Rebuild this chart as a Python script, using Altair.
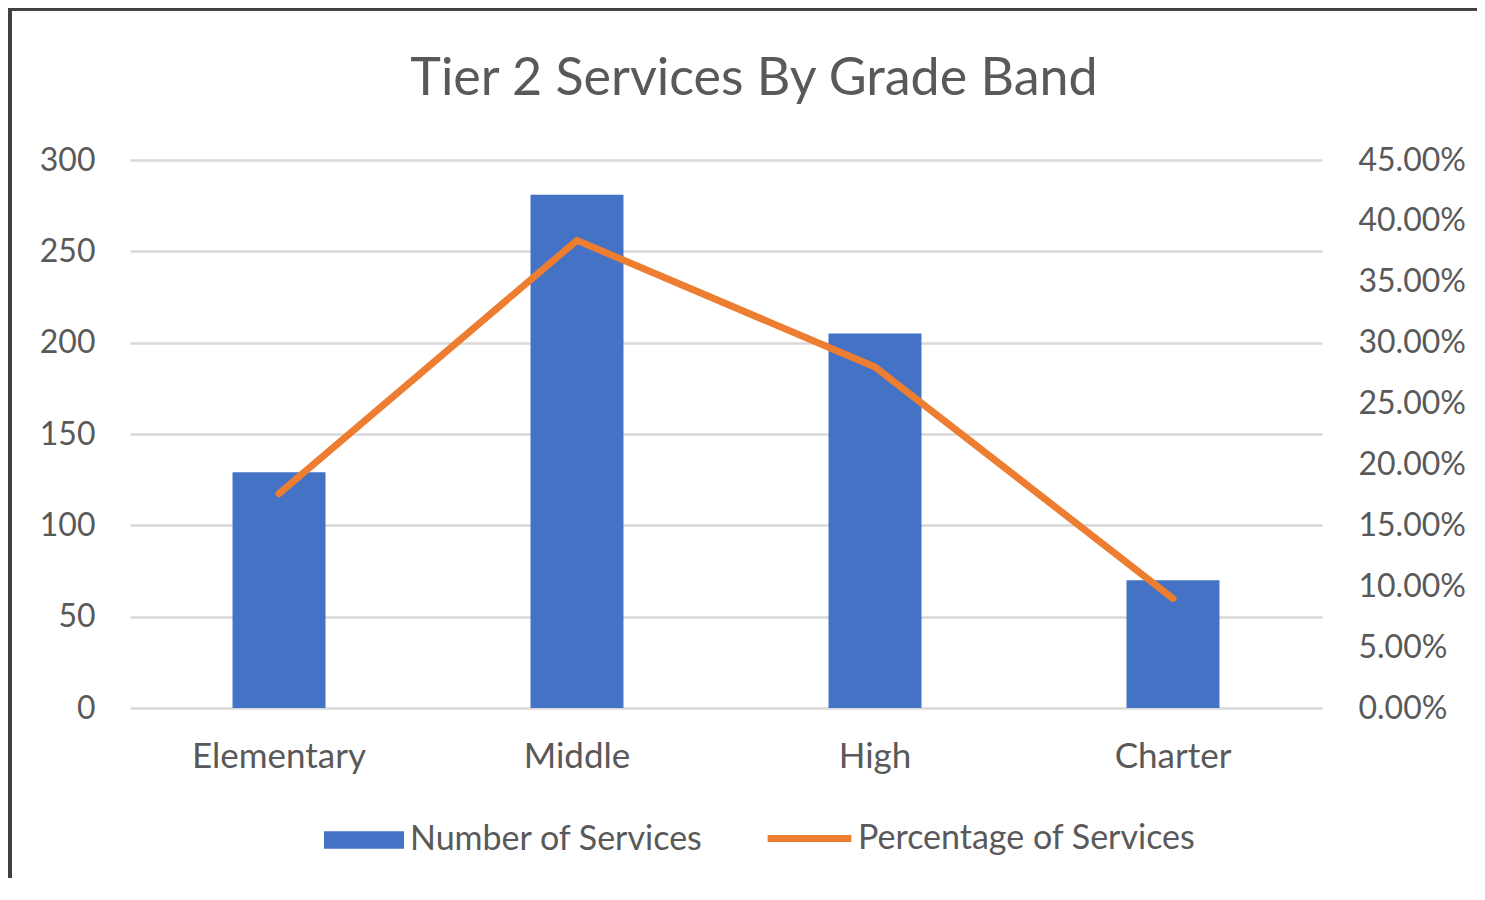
import altair as alt
import pandas as pd

# ---- data ----
categories = ["Elementary", "Middle", "High", "Charter"]
services = [129, 281, 205, 70]
percentages = [0.176, 0.384, 0.280, 0.090]
left_ticks = [0, 50, 100, 150, 200, 250, 300]
right_ticks = [0.0, 0.05, 0.10, 0.15, 0.20, 0.25, 0.30, 0.35, 0.40, 0.45]
series_bar = "Number of Services"
series_line = "Percentage of Services"

df = pd.DataFrame({
    "band": categories,
    "count": services,
    "pct": percentages,
    "s1": [series_bar] * 4,
    "s2": [series_line] * 4,
})

FONT = "Lato"
TXT = "#595959"
BLUE = "#4472C4"
ORANGE = "#ED7D31"

x_enc = alt.X(
    "band:N", sort=categories,
    scale=alt.Scale(paddingInner=0.688, paddingOuter=0.344),
    axis=alt.Axis(title=None, labelAngle=0, domain=False, ticks=False, grid=False,
                  labelPadding=31, labelFontSize=35, labelColor=TXT, labelFont=FONT),
)

bars = alt.Chart(df).mark_bar().encode(
    x=x_enc,
    y=alt.Y("count:Q", scale=alt.Scale(domain=[0, 300], nice=False),
            axis=alt.Axis(values=left_ticks, title=None, domain=False, ticks=False,
                          grid=True, gridColor="#D9D9D9", gridWidth=2.5,
                          labelPadding=35, labelFontSize=32, labelColor=TXT, labelFont=FONT)),
    color=alt.Color("s1:N", scale=alt.Scale(domain=[series_bar], range=[BLUE]),
                    legend=alt.Legend(title=None, orient="none", legendX=193, legendY=639,
                                      symbolType="M-1,-0.22H1V0.22H-1Z", symbolSize=6400,
                                      symbolOpacity=1, labelFontSize=34, labelColor=TXT,
                                      labelFont=FONT, labelOffset=5, labelLimit=0)),
)

line = alt.Chart(df).mark_line(strokeWidth=7, strokeCap="round", strokeJoin="round").encode(
    x=x_enc,
    y=alt.Y("pct:Q", scale=alt.Scale(domain=[0, 0.45], nice=False),
            axis=alt.Axis(orient="right", values=right_ticks, format=".2%", title=None,
                          domain=False, ticks=False, grid=False,
                          labelPadding=36, labelFontSize=32, labelColor=TXT, labelFont=FONT)),
    stroke=alt.Stroke("s2:N", scale=alt.Scale(domain=[series_line], range=[ORANGE]),
                      legend=alt.Legend(title=None, orient="none", legendX=634, legendY=633,
                                        symbolType="stroke", symbolSize=7000,
                                        symbolStrokeWidth=7, labelFontSize=34,
                                        labelColor=TXT, labelFont=FONT, labelOffset=3,
                                        labelLimit=0)),
)

frame_left = alt.Chart(df).mark_rule(color="#404040", strokeWidth=4).encode(
    x=alt.value(-120), y=alt.value(-152), y2=alt.value(740))
frame_top = alt.Chart(df).mark_rule(color="#404040", strokeWidth=3).encode(
    x=alt.value(-122), x2=alt.value(1360), y=alt.value(-151))

chart = alt.layer(bars, line, frame_left, frame_top).resolve_scale(
    y="independent"
).properties(
    width=1192, height=548,
    background="white",
    autosize=alt.AutoSizeParams(type="none"),
    padding={"left": 122, "top": 152, "right": 155, "bottom": 170},
    title=alt.Title("Tier 2 Services By Grade Band", fontSize=52, font=FONT,
                    color=TXT, fontWeight="normal", anchor="middle", dx=28,
                    baseline="alphabetic", offset=-141),
).configure_view(stroke=None)

chart.save("out.html", embed_options={"renderer": "svg", "actions": False})
